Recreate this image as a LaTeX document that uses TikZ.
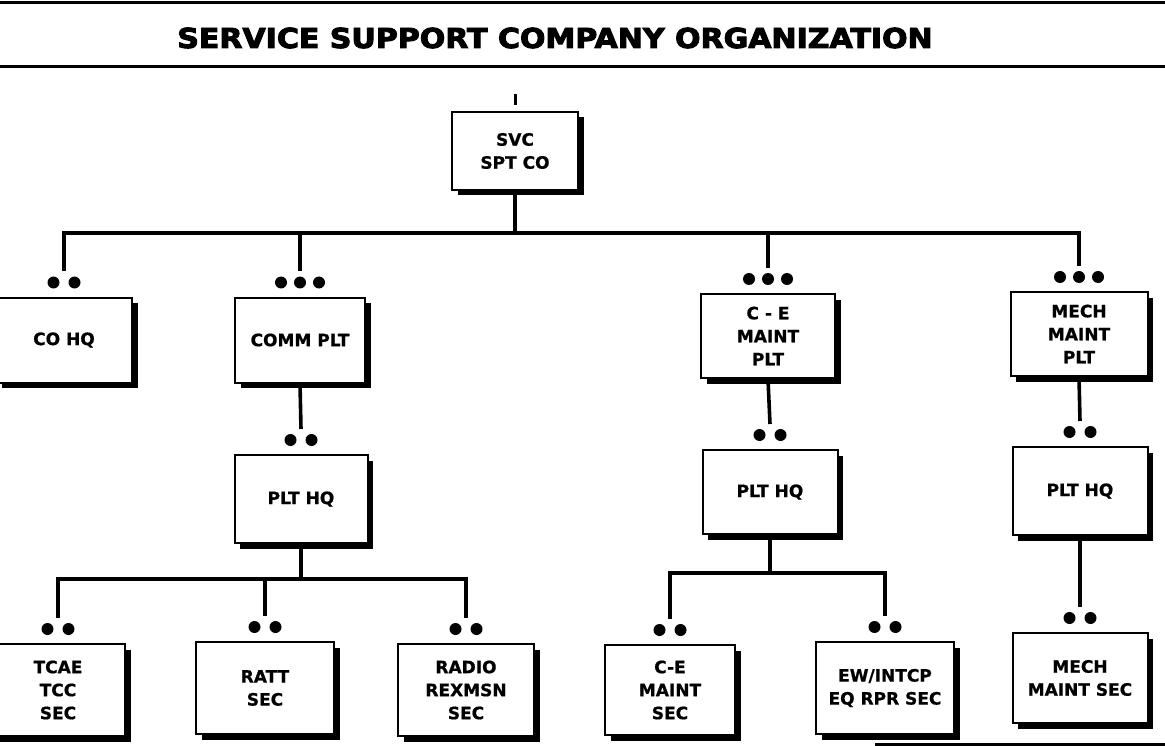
\documentclass[tikz,border=0pt]{standalone}
\usepackage{fontspec}
\setmainfont{DejaVu Sans}[BoldFeatures={FakeBold=0.8}]
\newfontfamily\titlefont{DejaVu Sans}[BoldFeatures={FakeBold=3.5}]
\usetikzlibrary{positioning, shadows}

\newcommand{\unitdots}[2]{\foreach \dx in {#2} {\fill ([xshift=\dx pt, yshift=14pt]#1.north) circle (6pt);}}

\begin{document}
\begin{tikzpicture}[x=1pt, y=-1pt, font=\bfseries\fontsize{17}{23}\selectfont,
  unit/.style={rectangle, draw, line width=2pt, fill=white, align=center, inner sep=2pt,
    drop shadow={shadow xshift=5.5pt, shadow yshift=-5.5pt, opacity=1, fill=black}},
  link/.style={line width=3.6pt},
  rule/.style={line width=3pt}]
  \useasboundingbox (0,0) rectangle (1165,746);
  \clip (0,0) rectangle (1165,746);

  % heading
  \draw[rule] (0,3) -- (1165,3);
  \node (title) at (555,38) {\titlefont\bfseries\fontsize{27.4}{28}\selectfont\scalebox{1.095}[1]{SERVICE SUPPORT COMPANY ORGANIZATION}};
  \draw[rule] (0,67) -- (1165,67);
  \draw[rule] (875,744) -- (1165,744);

  % company
  \node[unit, minimum width=126pt, minimum height=78pt] (svc) at (515,151) {SVC\\SPT CO};

  % platoons
  \node[unit, minimum width=136pt, minimum height=85pt] (cohq) at (64,340) {CO HQ};
  \node[unit, minimum width=130pt, minimum height=85pt] (comm) at (300,340) {COMM PLT};
  \node[unit, minimum width=134pt, minimum height=84pt] (ce) at (768,336) {C - E\\MAINT\\PLT};
  \node[unit, minimum width=137pt, minimum height=84pt] (mech) at (1079,334) {MECH\\MAINT\\PLT};

  % platoon headquarters
  \node[unit, minimum width=133pt, minimum height=88pt] (commhq) at (301,499) {PLT HQ};
  \node[unit, minimum width=135pt, minimum height=84pt] (cehq) at (770,492) {PLT HQ};
  \node[unit, minimum width=135pt, minimum height=88pt] (mechhq) at (1080,491) {PLT HQ};

  % sections
  \node[unit, minimum width=134pt, minimum height=92pt] (tcae) at (58,690) {TCAE\\TCC\\SEC};
  \node[unit, minimum width=138pt, minimum height=92pt] (ratt) at (265,688) {RATT\\SEC};
  \node[unit, minimum width=136pt, minimum height=92pt] (radio) at (466,690) {RADIO\\REXMSN\\SEC};
  \node[unit, minimum width=130pt, minimum height=90pt] (cesec) at (670,690) {C-E\\MAINT\\SEC};
  \node[unit, minimum width=138pt, minimum height=92pt] (ewsec) at (885,688) {EW/INTCP\\EQ RPR SEC};
  \node[unit, minimum width=135pt, minimum height=90pt] (mechsec) at (1080,678) {MECH\\MAINT SEC};

  % size symbols
  \unitdots{cohq}{-10.5,10.5}
  \unitdots{comm}{-19,0,19}
  \unitdots{ce}{-19,0,19}
  \unitdots{mech}{-19,0,19}
  \foreach \n in {commhq, cehq, mechhq, tcae, ratt, radio, cesec, ewsec, mechsec}
    {\unitdots{\n}{-10.5,10.5}}

  % lines
  \foreach \n in {cohq, comm, ce, mech, commhq, cehq, mechhq, tcae, ratt, radio, cesec, ewsec, mechsec}
    {\coordinate (\n-in) at ([yshift=25pt]\n.north);}
  \coordinate (bus) at (515,233);
  \coordinate (commbus) at (301,579);
  \coordinate (cebus) at (770,573);
  \draw[line width=3pt] ([yshift=6pt]svc.north) -- ++(0,-11);
  \draw[link] (svc.south) -- (bus);
  \draw[link] (cohq-in) |- (bus) -| (mech-in);
  \draw[link] (comm-in) -- (comm-in |- bus);
  \draw[link] (ce-in) -- (ce-in |- bus);
  \draw[link] (comm.south) -- (commhq-in);
  \draw[link] (ce.south) -- (cehq-in);
  \draw[link] (mech.south) -- (mechhq-in);
  \draw[link] (commhq.south) -- (commbus);
  \draw[link] (tcae-in) |- (commbus) -| (radio-in);
  \draw[link] (ratt-in) -- (ratt-in |- commbus);
  \draw[link] (cehq.south) -- (cebus);
  \draw[link] (cesec-in) |- (cebus) -| (ewsec-in);
  \draw[link] (mechhq.south) -- (mechsec-in);
\end{tikzpicture}
\end{document}
